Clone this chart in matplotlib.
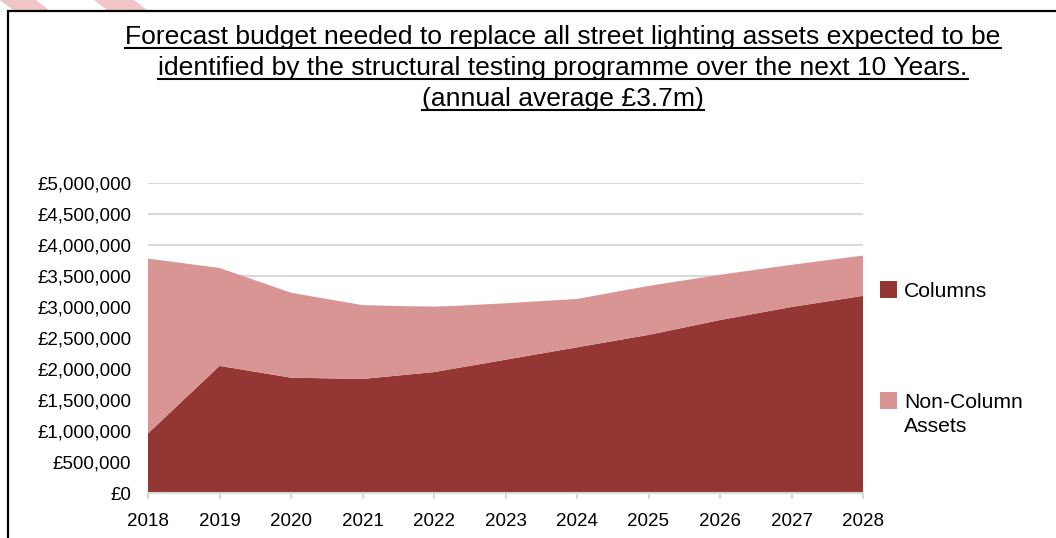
import matplotlib.pyplot as plt
from matplotlib.lines import Line2D
from matplotlib.patches import Polygon, Rectangle
from matplotlib.ticker import FuncFormatter, MultipleLocator

plt.rcParams["font.family"] = ["Liberation Sans", "DejaVu Sans"]

years = [2018, 2019, 2020, 2021, 2022, 2023, 2024, 2025, 2026, 2027, 2028]
columns = [960000, 2050000, 1860000, 1840000, 1950000, 2150000, 2350000, 2550000, 2790000, 3000000, 3180000]
non_column = [2820000, 1580000, 1370000, 1190000, 1050000, 910000, 780000, 790000, 730000, 680000, 650000]
series_names = ["Columns", "Non-Column\nAssets"]
title_lines = [
    "Forecast budget needed to replace all street lighting assets expected to be",
    "identified by the structural testing programme over the next 10 Years.",
    "(annual average £3.7m)",
]

DARK = "#943634"
LIGHT = "#D99594"
W, H = 1056, 538

fig = plt.figure(figsize=(W / 100, H / 100), dpi=100)

# pink stripes peeking above the frame
for pts in ([(0, 0), (36, 0), (50, 11), (14, 11)], [(94, 0), (134, 0), (148, 11), (108, 11)]):
    fig.patches.append(Polygon([(x / W, 1 - y / H) for x, y in pts], closed=True, zorder=-2,
                               transform=fig.transFigure, facecolor="#F2C6C9", edgecolor="none"))

# chart frame (runs off the right/bottom edge)
fig.patches.append(Rectangle((7.5 / W, -0.1), 1.2, 1 - 10.5 / H + 0.1, transform=fig.transFigure,
                             facecolor="white", edgecolor="black", linewidth=1.6, zorder=-1))

ax = fig.add_axes([148 / W, 1 - 493 / H, 715 / W, 310 / H])
ax.patch.set_visible(False)
ax.stackplot(years, columns, non_column, colors=[DARK, LIGHT], linewidth=0, zorder=3)
ax.set_xlim(2018, 2028)
ax.set_ylim(0, 5000000)
ax.yaxis.set_major_locator(MultipleLocator(500000))
ax.yaxis.set_major_formatter(FuncFormatter(lambda v, p: f"£{v:,.0f}"))
ax.set_xticks(years)
ax.grid(axis="y", color="#D9D9D9", linewidth=1.5, zorder=0)
ax.set_axisbelow(True)
for s in ["top", "right", "left"]:
    ax.spines[s].set_visible(False)
ax.spines["bottom"].set_color("#D9D9D9")
ax.spines["bottom"].set_linewidth(1.5)
ax.spines["bottom"].set_zorder(4)
ax.tick_params(axis="y", length=0, pad=12, labelsize=13.5)
ax.tick_params(axis="x", length=4, width=1.5, color="#D9D9D9", pad=10.5, labelsize=13.5)

# title with underline
title_y = [44, 75, 106]
texts = []
for line, yb in zip(title_lines, title_y):
    t = fig.text(563 / W, 1 - yb / H, line, ha="center", va="baseline", fontsize=19.05)
    texts.append((t, yb))
fig.canvas.draw()
r = fig.canvas.get_renderer()
for t, yb in texts:
    bb = t.get_window_extent(r)
    yu = 1 - (yb + 3.5) / H
    fig.lines.append(Line2D([bb.x0 / W, bb.x1 / W], [yu, yu], transform=fig.transFigure,
                            color="black", linewidth=1.5))

# legend
for name, color, ytop in zip(series_names, [DARK, LIGHT], [281, 392]):
    fig.patches.append(Rectangle((880 / W, 1 - (ytop + 17) / H), 17 / W, 17 / H,
                                 transform=fig.transFigure, facecolor=color, edgecolor="none"))
    fig.text(904 / W, 1 - (ytop + 1) / H, name, ha="left", va="top", fontsize=15.2, linespacing=1.32)

fig.savefig("out.png", dpi=100)
